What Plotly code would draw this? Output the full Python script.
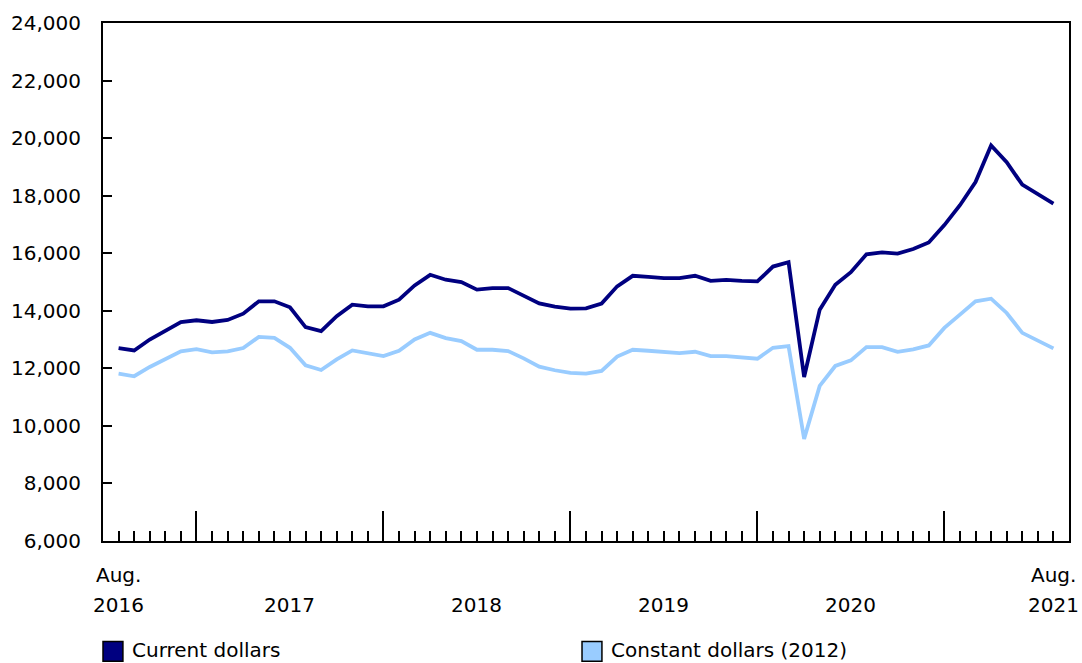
import plotly.graph_objects as go

# Monthly, Aug. 2016 to Aug. 2021 (61 months)
months = ["2016-08","2016-09","2016-10","2016-11","2016-12",
          "2017-01","2017-02","2017-03","2017-04","2017-05","2017-06","2017-07","2017-08","2017-09","2017-10","2017-11","2017-12",
          "2018-01","2018-02","2018-03","2018-04","2018-05","2018-06","2018-07","2018-08","2018-09","2018-10","2018-11","2018-12",
          "2019-01","2019-02","2019-03","2019-04","2019-05","2019-06","2019-07","2019-08","2019-09","2019-10","2019-11","2019-12",
          "2020-01","2020-02","2020-03","2020-04","2020-05","2020-06","2020-07","2020-08","2020-09","2020-10","2020-11","2020-12",
          "2021-01","2021-02","2021-03","2021-04","2021-05","2021-06","2021-07","2021-08"]

current_dollars = [12700, 12620, 13000, 13290, 13610, 13670, 13610, 13680, 13900, 14330, 14330,
                   14120, 13430, 13290, 13810, 14210, 14155, 14155, 14386, 14880, 15250, 15080,
                   14995, 14735, 14790, 14790, 14525, 14258, 14144, 14075, 14086, 14248, 14850,
                   15215, 15180, 15135, 15133, 15215, 15042, 15077, 15042, 15020, 15537, 15690,
                   11700, 14040, 14905, 15340, 15962, 16031, 15986, 16148, 16376, 16978, 17669,
                   18474, 19742, 19165, 18381, 18070, 17724]

constant_dollars = [11816, 11725, 12047, 12313, 12589, 12669, 12555, 12589, 12704, 13094, 13060,
                    12714, 12105, 11943, 12313, 12624, 12531, 12427, 12611, 13004, 13233, 13050,
                    12945, 12645, 12645, 12600, 12347, 12059, 11933, 11840, 11816, 11909, 12410,
                    12645, 12611, 12576, 12531, 12576, 12427, 12427, 12369, 12334, 12714, 12773,
                    9549, 11391, 12082, 12278, 12738, 12738, 12576, 12658, 12796, 13405, 13868,
                    14328, 14421, 13924, 13233, 12970, 12693]

series_names = ["Current dollars", "Constant dollars (2012)"]
series_colors = ["#000080", "#99CCFF"]

year_labels = ["2016", "2017", "2018", "2019", "2020", "2021"]
year_label_months = ["2016-08", "2017-07", "2018-07", "2019-07", "2020-07", "2021-08"]
month_labels = ["Aug.", "Aug."]
month_label_months = ["2016-08", "2021-08"]

y_ticks = list(range(6000, 24001, 2000))

idx = list(range(len(months)))
pos = {m: i for i, m in enumerate(months)}

FONT = "DejaVu Sans, Verdana, sans-serif"
FS = 20

fig = go.Figure()
for name, vals, col in zip(series_names, [current_dollars, constant_dollars], series_colors):
    fig.add_trace(go.Scatter(x=idx, y=vals, mode="lines", name=name,
                             line=dict(color=col, width=3.8), showlegend=False))

major = [i for i, m in enumerate(months) if m.endswith("-01")]
minor = [i for i in idx if i not in major]

fig.update_layout(
    width=1082, height=663,
    margin=dict(l=101, r=11, t=20, b=122),
    paper_bgcolor="white", plot_bgcolor="white",
    font=dict(family=FONT, size=FS, color="#000000"),
    showlegend=False,
    xaxis=dict(range=[-1, 61], showgrid=False, zeroline=False,
               showline=True, linecolor="black", linewidth=2, mirror=True,
               tickmode="array", tickvals=major, ticktext=["" for _ in major],
               ticks="inside", ticklen=30, tickwidth=1.5, tickcolor="black",
               minor=dict(tickmode="array", tickvals=minor, ticks="inside",
                          ticklen=10, tickwidth=1.5, tickcolor="black", showgrid=False)),
    yaxis=dict(range=[6000, 24000], showgrid=False, zeroline=False,
               showline=True, linecolor="black", linewidth=2, mirror=True,
               tickmode="array", tickvals=y_ticks,
               ticktext=[f"{v:,}" for v in y_ticks],
               ticks="inside", ticklen=9, tickwidth=1.5, tickcolor="black",
               ticklabelstandoff=16),
)

anns = []
for lab, m in zip(year_labels, year_label_months):
    anns.append(dict(x=pos[m], y=(541 - 605) / 521, xref="x", yref="paper",
                     text=lab, showarrow=False, xanchor="center", yanchor="middle",
                     font=dict(family=FONT, size=FS, color="black")))
for lab, m in zip(month_labels, month_label_months):
    anns.append(dict(x=pos[m], y=(541 - 575) / 521, xref="x", yref="paper",
                     text=lab, showarrow=False, xanchor="center", yanchor="middle",
                     font=dict(family=FONT, size=FS, color="black")))

# Legend drawn as boxes + text below the plot
legend_px = [101, 582]
shapes = []
for name, col, px in zip(series_names, series_colors, legend_px):
    x0 = (px - 101) / 970
    x1 = (px + 20 - 101) / 970
    shapes.append(dict(type="rect", xref="paper", yref="paper",
                       x0=x0, x1=x1, y0=(541 - 662) / 521, y1=(541 - 642) / 521,
                       fillcolor=col, line=dict(color="black", width=1.5)))
    anns.append(dict(x=(px + 27 - 101) / 970, y=(541 - 651) / 521, xref="paper", yref="paper",
                     text=name, showarrow=False, xanchor="left", yanchor="middle",
                     font=dict(family=FONT, size=FS, color="black")))

fig.update_layout(annotations=anns, shapes=shapes)
fig.write_html("out.html", config={"displayModeBar": False},
               post_script="document.body.style.margin='0px';document.body.style.overflow='hidden';")
